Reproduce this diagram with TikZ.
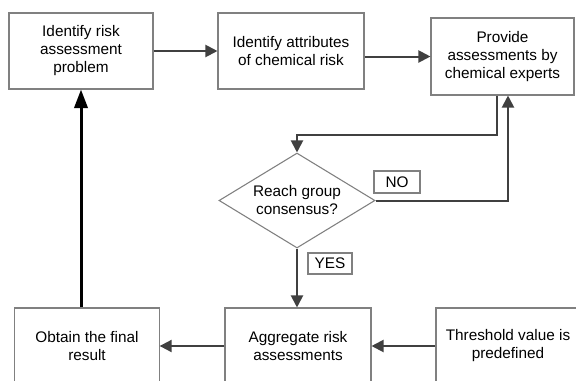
\documentclass[tikz,border=0pt]{standalone}
\usepackage{fontspec}
\setmainfont{Liberation Sans}
\usetikzlibrary{arrows.meta,shapes.geometric,calc}
\definecolor{boxgray}{HTML}{808080}
\definecolor{arrgray}{HTML}{404040}
\tikzset{
  box/.style={draw=boxgray, line width=0.8pt, fill=white, align=center, inner sep=0pt,
    font=\fontsize{11.5pt}{13.5pt}\selectfont},
  dia/.style={draw=boxgray, line width=0.8pt, fill=white, diamond, aspect=1.64, align=center, inner sep=0pt,
    minimum width=117pt, minimum height=71.25pt, font=\fontsize{11.5pt}{13.5pt}\selectfont},
  lab/.style={draw=boxgray, line width=0.8pt, fill=white, inner sep=0pt,
    font=\fontsize{11.5pt}{13.5pt}\selectfont},
  arr/.style={draw=arrgray, line width=1.5pt, -{Triangle[length=9pt,width=9pt]}},
  barr/.style={draw=black, line width=2.25pt, -{Triangle[length=14pt,width=10pt]}},
}
\begin{document}
\begin{tikzpicture}[x=0.75pt,y=-0.75pt]
\clip (0,0) rectangle (576,380);
\fill[white] (0,0) rectangle (576,380);
% top row
\node[box, minimum width=108pt, minimum height=57pt] (b1) at (81,51) {Identify risk\\assessment\\problem};
\node[box, minimum width=109.5pt, minimum height=57pt] (b2) at (291,51) {Identify attributes\\of chemical risk};
\node[box, minimum width=107.25pt, minimum height=57.75pt] (b3) at (502.5,56.5) {Provide\\assessments by\\chemical experts};
% diamond
\node[dia] (d) at (297,200.5) {Reach group\\consensus?};
% bottom row
\node[box, minimum width=108.2pt, minimum height=57pt] (ob) at (87,346) {Obtain the final\\result};
\node[box, minimum width=109.5pt, minimum height=57pt] (ag) at (298,346) {Aggregate risk\\assessments};
\node[box, minimum width=108pt, minimum height=57pt] (th) at (508,346) {Threshold value is\\predefined};
% labels
\node[lab, minimum width=34.5pt, minimum height=16.5pt] (no) at (397,182) {NO};
\node[lab, minimum width=33pt, minimum height=15.75pt] (yes) at (330,263.5) {YES};
% connectors
\coordinate (turn) at (297,135);
\draw[arr] (b1) -- (b2);
\draw[arr] (b2.east |- b3.west) -- (b3.west);
\draw[arr] ($(b3.south)+(-5.5,0)$) |- (turn) -- (d.north);
\draw[arr] (d.east) -| ($(b3.south)+(5.5,0)$);
\draw[arr] (d.south) -- (d.south |- ag.north);
\draw[arr] (th.west) -- (ag.east);
\draw[arr] (ag.west) -- (ob.east);
\draw[barr] (b1.south |- ob.north) -- (b1.south);
\end{tikzpicture}
\end{document}
